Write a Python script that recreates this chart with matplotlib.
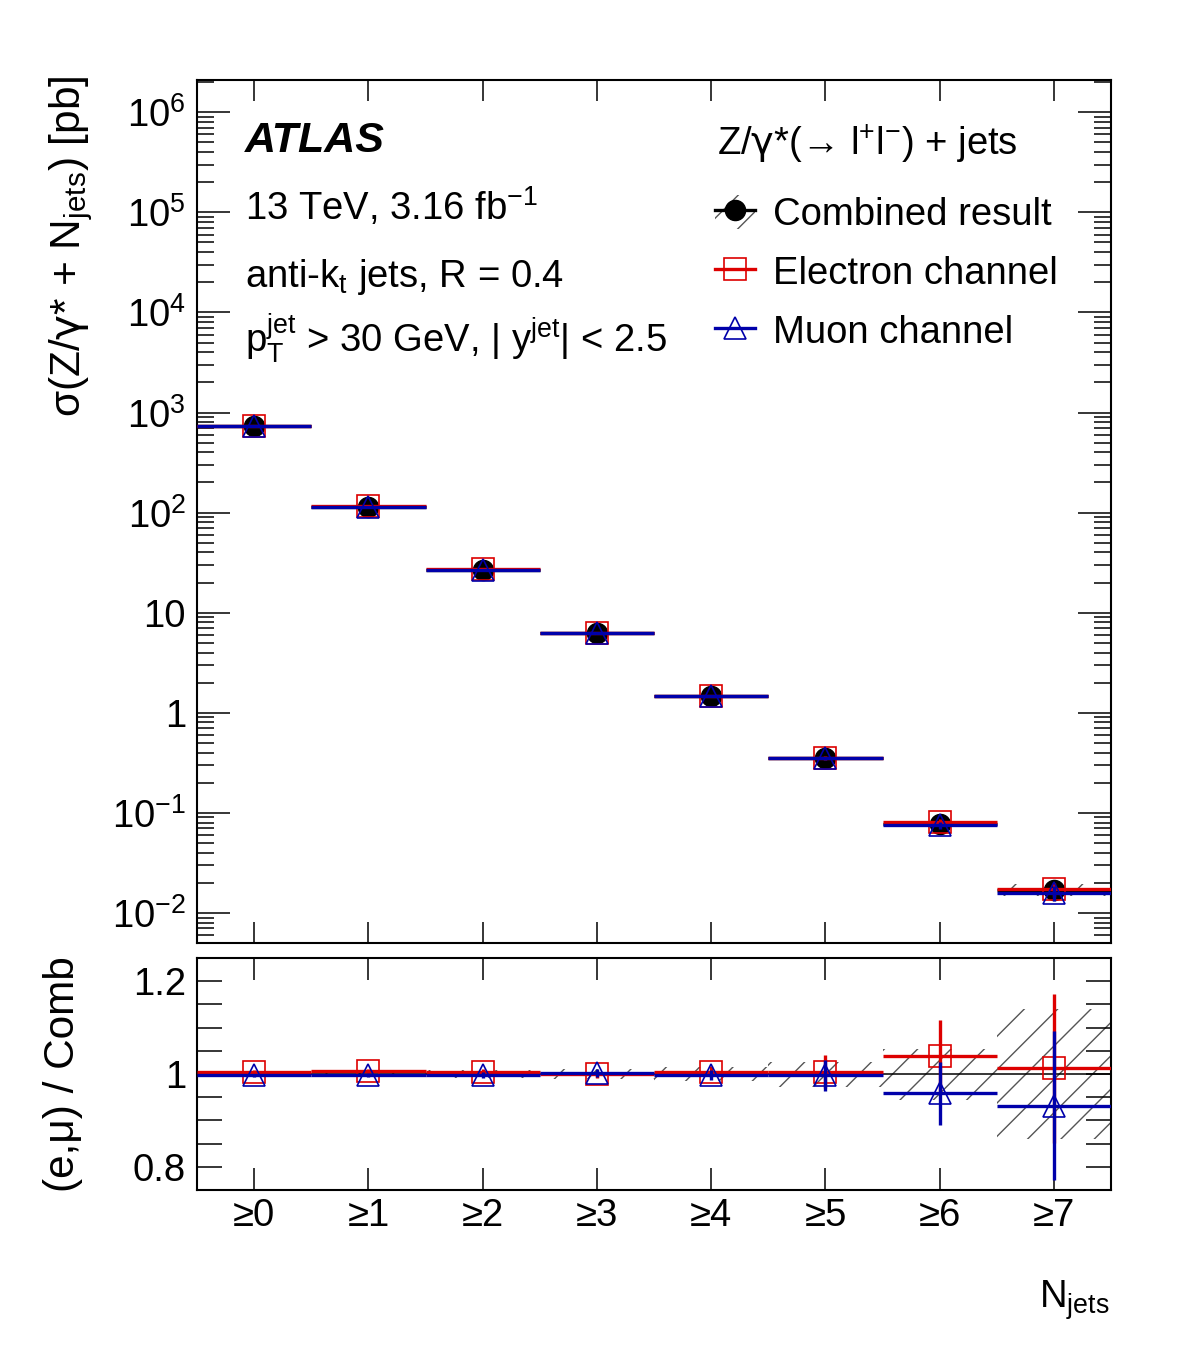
import matplotlib
matplotlib.use("Agg")
import matplotlib.pyplot as plt
import matplotlib.ticker as ticker
import numpy as np
from matplotlib.lines import Line2D
from matplotlib.patches import Patch

plt.rcParams["font.family"] = ["Liberation Sans", "DejaVu Sans"]
plt.rcParams["mathtext.fontset"] = "dejavusans"
plt.rcParams["mathtext.default"] = "regular"
plt.rcParams["hatch.linewidth"] = 1.0

# ── data ──
njets_labels = ["≥0", "≥1", "≥2", "≥3", "≥4", "≥5", "≥6", "≥7"]
xsec_comb = [737.0, 115.0, 26.9, 6.2, 1.47, 0.352, 0.078, 0.0170]
comb_rel_unc = [0.007, 0.007, 0.008, 0.010, 0.016, 0.027, 0.055, 0.14]
ratio_el = [1.004, 1.006, 1.005, 1.000, 1.005, 1.005, 1.039, 1.012]
ratio_el_err = [0.004, 0.005, 0.006, 0.008, 0.012, 0.036, 0.077, 0.161]
ratio_mu = [0.997, 0.998, 0.998, 1.002, 0.998, 0.997, 0.959, 0.932]
ratio_mu_err = [0.004, 0.004, 0.006, 0.008, 0.011, 0.034, 0.068, 0.160]

x = np.arange(len(njets_labels))
comb = np.array(xsec_comb)
comb_err = comb * np.array(comb_rel_unc)
el = comb * np.array(ratio_el)
el_err = comb * np.array(ratio_el_err)
mu = comb * np.array(ratio_mu)
mu_err = comb * np.array(ratio_mu_err)

RED = "#dd0000"
BLUE = "#0000aa"
HATCH = "#555555"
FS = 27.5
LFS = 30.5
GAMMA = r"$\mathrm{\gamma}$"

fig = plt.figure(figsize=(11.82, 13.63), dpi=100)
ax = fig.add_axes([0.1667, 0.3081, 0.7733, 0.6332])
rax = fig.add_axes([0.1667, 0.1269, 0.7733, 0.1702])

# ── top panel ──
ax.bar(x, 2 * comb_err, bottom=comb - comb_err, width=1.0, fill=False,
       hatch="/", edgecolor=HATCH, linewidth=0, zorder=1)
ax.errorbar(x, comb, xerr=0.5, yerr=comb_err, fmt="o", color="k", ms=14.5,
            elinewidth=2.4, capsize=0, zorder=3)
ax.errorbar(x, el, xerr=0.5, yerr=el_err, fmt="s", color=RED, ms=15.5,
            mfc="none", mew=1.2, elinewidth=2.4, capsize=0, zorder=4)
ax.errorbar(x, mu, xerr=0.5, yerr=mu_err, fmt="^", color=BLUE, ms=15.5,
            mfc="none", mew=1.2, elinewidth=2.4, capsize=0, zorder=5)

ax.set_yscale("log")
ax.set_ylim(5e-3, 2.1e6)
ax.set_xlim(-0.5, 7.5)


def log_label(v, pos):
    k = int(round(np.log10(v)))
    if k == 0:
        return "1"
    if k == 1:
        return "10"
    return "10$^{%d}$" % k


ax.yaxis.set_major_locator(ticker.LogLocator(base=10, numticks=20))
ax.yaxis.set_minor_locator(ticker.LogLocator(base=10, subs=np.arange(2, 10), numticks=20))
ax.yaxis.set_major_formatter(ticker.FuncFormatter(log_label))
ax.yaxis.set_minor_formatter(ticker.NullFormatter())
ax.set_xticks(x)
ax.set_xticklabels([])
ax.tick_params(axis="both", which="both", direction="in", top=True, right=True,
               width=1.1, labelsize=FS)
ax.tick_params(axis="y", which="major", length=24, pad=8)
ax.tick_params(axis="y", which="minor", length=12)
ax.tick_params(axis="x", which="major", length=15)
ax.tick_params(axis="x", which="minor", bottom=False, top=False)
for s in ax.spines.values():
    s.set_linewidth(1.5)

ax.set_ylabel("σ(Z/" + GAMMA + "* + N$_{jets}$) [pb]", fontsize=LFS, loc="top")
ax.yaxis.set_label_coords(-0.112, 1.005)

ax.text(0.0525, 0.9166, "ATLAS", transform=ax.transAxes, fontsize=31,
        fontweight="bold", fontstyle="italic", va="baseline")
ax.text(0.0525, 0.8378, "13 TeV, 3.16 fb$^{-1}$", transform=ax.transAxes,
        fontsize=FS, va="baseline")
ax.text(0.0525, 0.7601, "anti-k$_{t}$ jets, R = 0.4", transform=ax.transAxes,
        fontsize=FS, va="baseline")
ax.text(0.0525, 0.6848, "p$_{T}^{jet}$ > 30 GeV, | y$^{jet}$| < 2.5",
        transform=ax.transAxes, fontsize=FS, va="baseline")
ax.text(0.569, 0.913, "Z/" + GAMMA + "*(→ l$^{+}$l$^{-}$) + jets",
        transform=ax.transAxes, fontsize=FS, va="baseline")

h_comb = (Patch(facecolor="none", edgecolor=HATCH, hatch="/", linewidth=0),
          Line2D([], [], color="k", marker="o", ms=14.5, lw=2.4))
h_el = Line2D([], [], color=RED, marker="s", ms=15.5, mfc="none", mew=1.2, lw=2.4)
h_mu = Line2D([], [], color=BLUE, marker="^", ms=15.5, mfc="none", mew=1.2, lw=2.4)
ax.legend([h_comb, h_el, h_mu], ["Combined result", "Electron channel", "Muon channel"],
          loc="upper left", bbox_to_anchor=(0.5667, 0.867), frameon=False,
          fontsize=FS, handlelength=1.05, handleheight=1.0, handletextpad=0.47,
          borderpad=0, borderaxespad=0, labelspacing=0.55)

# ── ratio panel ──
rax.bar(x, 2 * np.array(comb_rel_unc), bottom=1 - np.array(comb_rel_unc), width=1.0,
        fill=False, hatch="/", edgecolor=HATCH, linewidth=0, zorder=1)
rax.axhline(1.0, color="k", lw=1.1, zorder=2)
rax.errorbar(x, ratio_el, xerr=0.5, yerr=ratio_el_err, fmt="s", color=RED, ms=15.5,
             mfc="none", mew=1.2, elinewidth=2.4, capsize=0, zorder=4)
rax.errorbar(x, ratio_mu, xerr=0.5, yerr=ratio_mu_err, fmt="^", color=BLUE, ms=15.5,
             mfc="none", mew=1.2, elinewidth=2.4, capsize=0, zorder=5)
rax.set_xlim(-0.5, 7.5)
rax.set_ylim(0.75, 1.25)
rax.set_yticks([0.8, 1.0, 1.2])
rax.set_yticklabels(["0.8", "1", "1.2"])
rax.yaxis.set_minor_locator(ticker.MultipleLocator(0.05))
rax.set_xticks(x)
rax.set_xticklabels(njets_labels)
rax.tick_params(axis="both", which="both", direction="in", top=True, right=True,
                width=1.1, labelsize=FS)
rax.tick_params(axis="y", which="both", length=18, pad=8)
rax.tick_params(axis="x", which="major", length=16, pad=6)
rax.tick_params(axis="x", which="minor", bottom=False, top=False)
for s in rax.spines.values():
    s.set_linewidth(1.5)
rax.set_ylabel("(e,μ) / Comb", fontsize=LFS, loc="top")
rax.yaxis.set_label_coords(-0.125, 1.01)
rax.set_xlabel("N$_{jets}$", fontsize=FS, loc="right")
rax.xaxis.set_label_coords(0.998, -0.38)

fig.savefig("out.png", dpi=100)
